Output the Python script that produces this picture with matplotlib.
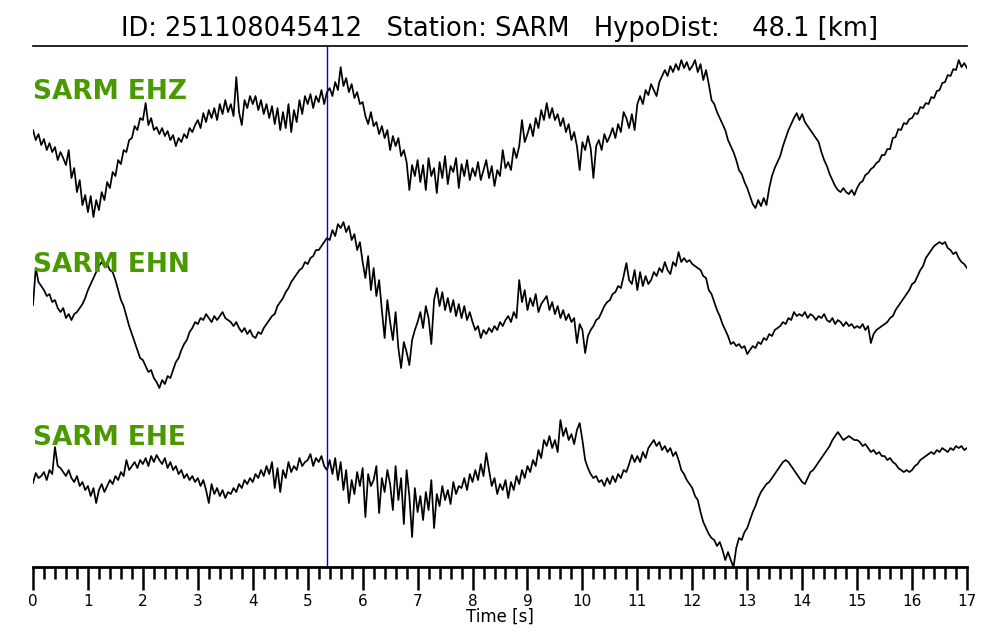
import numpy as np
import matplotlib.pyplot as plt

# waveform amplitudes (arbitrary counts, demeaned), every 0.05 s
dt = 0.05
pick_time = 5.35  # s, blue marker

ehz = [
    8, -2, 4, -7, -1, -12, -5, -14, -9, -22, -14, -20, -27, -12, -40, -30, -54, -42, -67, -57,
    -74, -58, -79, -62, -72, -54, -62, -44, -50, -34, -38, -22, -26, -12, -14, -2, 0, 12, 8, 20,
    18, 35, 13, 20, 8, 11, 4, 10, 2, 7, -2, 3, -8, 0, -4, 4, 0, 10, 6, 13,
    18, 10, 25, 16, 28, 20, 30, 18, 34, 24, 38, 26, 34, 22, 61, 26, 13, 38, 30, 42,
    34, 42, 28, 38, 24, 34, 20, 32, 14, 30, 8, 26, 10, 34, 6, 28, 16, 38, 24, 42,
    34, 44, 30, 42, 36, 48, 34, 46, 50, 42, 56, 48, 71, 52, 60, 46, 54, 40, 46, 34,
    36, 22, 14, 26, 12, 16, 4, 12, 0, 8, -12, 2, -8, 0, -18, -12, -24, -52, -27, -38,
    -22, -44, -27, -52, -20, -38, -30, -55, -24, -40, -18, -46, -28, -34, -20, -50, -26, -38, -22, -42,
    -30, -38, -24, -42, -32, -22, -40, -28, -48, -32, -38, -12, -30, -24, -32, -10, -20, -8, 18, -4,
    4, 14, 2, 20, 10, 28, 18, 35, 20, 30, 18, 24, 12, 20, 6, 14, -2, 6, -8, -32,
    -4, -12, 2, -10, -40, -8, -2, -12, 4, -4, 2, 10, 0, 14, 6, 26, 20, 10, 24, 8,
    34, 42, 34, 48, 43, 54, 48, 42, 56, 62, 68, 62, 72, 66, 74, 68, 78, 70, 76, 68,
    72, 78, 66, 74, 58, 68, 54, 38, 34, 26, 20, 14, 8, -2, -8, -14, -22, -32, -36, -44,
    -50, -58, -66, -70, -62, -68, -60, -67, -50, -38, -30, -24, -18, -8, 0, 8, 14, 20, 25, 18,
    24, 16, 12, 8, 4, 0, -4, -14, -22, -28, -36, -42, -48, -52, -54, -50, -54, -56, -52, -57,
    -50, -45, -43, -37, -35, -31, -29, -25, -23, -17, -17, -11, -11, 0, 1, 9, 8, 15, 14, 19,
    20, 25, 24, 31, 30, 35, 34, 41, 40, 47, 48, 55, 56, 63, 62, 69, 68, 78, 71, 75,
    70,
]

ehn = [
    0, 37, 23, 19, 15, 9, 11, 3, 5, -3, -7, -3, -13, -9, -15, -9, -7, -3, 1, 7,
    15, 21, 27, 33, 39, 43, 39, 41, 35, 33, 25, 15, 5, -1, -11, -21, -29, -37, -45, -53,
    -55, -61, -67, -65, -73, -77, -83, -75, -79, -71, -73, -65, -57, -53, -45, -39, -35, -27, -23, -17,
    -19, -13, -15, -9, -13, -17, -11, -15, -11, -7, -13, -15, -17, -21, -17, -23, -27, -23, -29, -25,
    -31, -33, -27, -29, -23, -19, -15, -11, -9, -1, 3, 7, 13, 17, 23, 27, 31, 35, 37, 43,
    41, 47, 49, 55, 55, 59, 63, 67, 65, 75, 69, 81, 77, 83, 73, 79, 65, 71, 55, 63,
    43, 27, 49, 15, 37, 9, 25, -5, -33, 5, -17, -35, -7, -43, -63, -37, -47, -60, -35, -25,
    -17, -7, -23, -1, -13, -39, 5, 17, -1, 13, -5, 7, -7, 5, -11, 1, -13, -1, -15, -7,
    -17, -25, -21, -33, -25, -29, -23, -27, -21, -25, -17, -21, -15, -11, -17, -7, -13, 25, 3, 15,
    -5, 7, -1, 11, -7, 1, 5, 9, -5, 3, -9, -1, -13, -5, -15, -9, -17, -13, -38, -19,
    -25, -48, -31, -25, -21, -15, -13, -7, -1, 3, 5, 11, 13, 19, 17, 29, 42, 25, 21, 35,
    15, 33, 19, 29, 21, 25, 33, 29, 37, 33, 43, 35, 31, 43, 39, 53, 43, 47, 43, 45,
    41, 39, 37, 35, 29, 27, 15, 11, 3, -5, -11, -19, -25, -31, -39, -37, -41, -39, -43, -41,
    -49, -45, -41, -43, -37, -39, -33, -35, -29, -31, -25, -23, -21, -17, -19, -13, -15, -7, -11, -9,
    -11, -7, -13, -9, -11, -15, -11, -13, -9, -15, -17, -13, -19, -15, -17, -21, -17, -21, -19, -23,
    -21, -23, -19, -25, -21, -38, -29, -25, -23, -21, -19, -17, -13, -11, -5, -1, 3, 7, 11, 15,
    21, 23, 29, 35, 39, 47, 51, 55, 59, 61, 63, 61, 63, 57, 55, 51, 53, 47, 43, 41,
    37,
]

ehe = [
    7, 17, 12, 14, 18, 10, 20, 16, 43, 24, 22, 18, 14, 20, 12, 8, 14, 4, 8, 0,
    4, -6, 2, -13, 0, 6, -2, 4, 10, 6, 14, 10, 18, 14, 30, 20, 24, 28, 22, 30,
    26, 32, 24, 34, 28, 35, 30, 26, 32, 22, 28, 20, 24, 16, 20, 12, 16, 10, 14, 8,
    12, 4, 10, 0, -13, 6, -4, 2, -6, 0, -8, -2, -4, 2, -2, 6, 2, 10, 6, 12,
    8, 16, 12, 20, 14, 24, 16, 28, 2, 22, -2, 20, 12, 28, 18, 24, 20, 32, 24, 28,
    30, 36, 24, 32, 28, 34, 24, 20, 30, 16, 32, 10, 28, 0, 20, -13, 10, -4, 18, 4,
    22, -27, 16, 4, 10, 24, -23, 12, -2, 20, 6, -20, 24, -10, 12, -34, 20, -6, -47, 2,
    -22, -6, -30, -2, -20, 10, -38, -4, -16, 4, -10, 0, -14, 8, -4, 4, 2, 12, 0, 16,
    8, 20, 10, 26, 14, 37, 20, 4, 12, -4, 6, 0, 10, -8, 8, 0, 14, 6, 20, 12,
    24, 18, 30, 24, 40, 32, 50, 44, 54, 42, 50, 38, 70, 54, 62, 50, 56, 46, 60, 67,
    50, 30, 22, 16, 12, 14, 8, 10, 4, 12, 6, 14, 8, 16, 12, 20, 18, 26, 35, 28,
    34, 28, 38, 32, 42, 46, 50, 44, 48, 40, 44, 38, 42, 34, 38, 30, 20, 16, 10, 6,
    2, -6, -10, -22, -32, -38, -44, -48, -50, -56, -52, -60, -70, -62, -70, -77, -58, -48, -50, -42,
    -38, -30, -22, -16, -8, -2, 2, 6, 8, 12, 16, 20, 24, 28, 30, 28, 24, 20, 16, 12,
    8, 6, 12, 18, 20, 24, 28, 32, 36, 40, 44, 50, 54, 58, 54, 50, 52, 54, 52, 50,
    50, 48, 44, 46, 42, 38, 40, 36, 38, 34, 34, 30, 32, 28, 26, 22, 20, 18, 20, 18,
    20, 24, 26, 30, 32, 34, 36, 38, 36, 40, 38, 42, 40, 38, 42, 40, 44, 42, 44, 40,
    42,
]

channels = ["SARM EHZ", "SARM EHN", "SARM EHE"]
traces = [ehz, ehn, ehe]
title = "ID: 251108045412   Station: SARM   HypoDist:    48.1 [km]"

# layout (vertical offsets of each trace, and label heights)
offsets = [429, 262, 77]
label_y = [475, 302, 129]

fig = plt.figure(figsize=(10, 6.4), dpi=100)
ax = fig.add_axes([0.033, 0.114, 0.934, 0.814])

for tr, off in zip(traces, offsets):
    tr = np.array(tr)
    t = np.arange(len(tr)) * dt
    ax.plot(t, tr + off, color="black", lw=1.25)

for name, ly in zip(channels, label_y):
    ax.text(0.0, ly, name, color="#4a9900", fontsize=19, fontweight="bold",
            va="center", ha="left", transform=ax.get_yaxis_transform())

ax.axvline(pick_time, color="#0000e0", lw=1.0)

ax.set_xlim(0, 17)
ax.set_ylim(0, 521)
ax.set_yticks([])
ax.spines["left"].set_visible(False)
ax.spines["right"].set_visible(False)
ax.spines["top"].set_linewidth(1.2)
ax.spines["bottom"].set_linewidth(2.0)

ax.set_xticks(np.arange(0, 18, 1))
ax.set_xticks(np.arange(0, 17.01, 0.2), minor=True)
ax.tick_params(axis="x", which="major", direction="out", length=16.5, width=1.8,
               labelsize=11, pad=3)
ax.tick_params(axis="x", which="minor", direction="out", length=8.5, width=1.8)
ax.set_xlabel("Time [s]", fontsize=12, labelpad=-1)
ax.set_title(title, fontsize=18.5, pad=7)

plt.savefig("out.png", dpi=100)
